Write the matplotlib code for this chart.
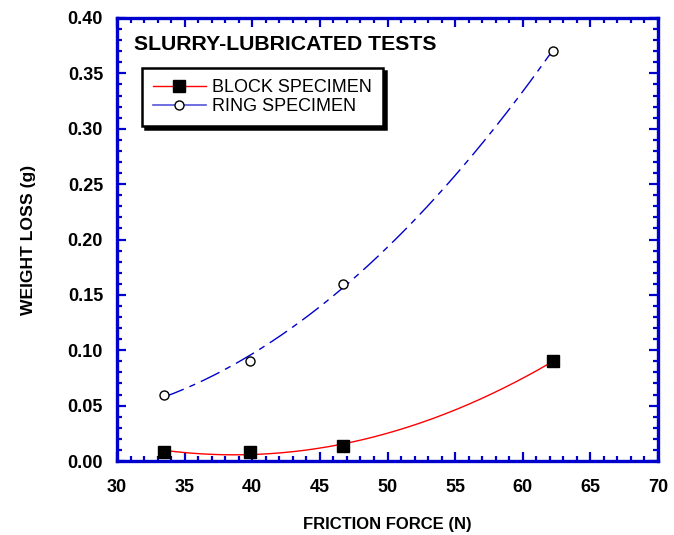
import numpy as np
import matplotlib
matplotlib.use("Agg")
import matplotlib.pyplot as plt
from matplotlib.ticker import MultipleLocator, FormatStrFormatter

plt.rcParams['font.family'] = ['Liberation Sans', 'DejaVu Sans']

force = [33.5, 39.8, 46.7, 62.2]
block_loss = [0.0085, 0.0085, 0.0135, 0.090]
ring_loss = [0.060, 0.090, 0.160, 0.370]

BLUE = '#0000CC'

fig = plt.figure(figsize=(6.74, 5.35), dpi=100)
ax = fig.add_axes([117/674, 1-461/535, (658-117)/674, (461-18)/535])

xs = np.linspace(min(force), max(force), 200)
pb = np.polyfit(force, block_loss, 2)
pr = np.polyfit(force, ring_loss, 2)

ax.plot(xs, np.polyval(pb, xs), color='red', lw=1.0, zorder=2)
ax.plot(xs, np.polyval(pr, xs), color=BLUE, lw=1.0, dashes=(15, 4.5, 4.5, 4.5), zorder=2)
ax.plot(force, block_loss, ls='none', marker='s', ms=8.5, mfc='black', mec='black', zorder=3)
ax.plot(force, ring_loss, ls='none', marker='o', ms=6.5, mfc='white', mec='black', mew=1.0, zorder=3)

ax.set_xlim(30, 70)
ax.set_ylim(0, 0.40)
ax.xaxis.set_major_locator(MultipleLocator(5))
ax.xaxis.set_minor_locator(MultipleLocator(1))
ax.yaxis.set_major_locator(MultipleLocator(0.05))
ax.yaxis.set_minor_locator(MultipleLocator(0.01))
ax.yaxis.set_major_formatter(FormatStrFormatter('%.2f'))

for s in ax.spines.values():
    s.set_color(BLUE)
    s.set_linewidth(2.4)
ax.tick_params(which='both', direction='in', top=True, right=True, color=BLUE, width=1.6)
ax.tick_params(which='major', length=6.5, labelsize=13)
ax.tick_params(axis='x', which='major', pad=13)
ax.tick_params(axis='y', which='major', pad=10)
ax.tick_params(which='minor', length=3.5)
for lab in ax.get_xticklabels() + ax.get_yticklabels():
    lab.set_fontweight('bold')

ax.set_xlabel('FRICTION FORCE (N)', fontsize=12, fontweight='bold', labelpad=15)
ax.set_ylabel('WEIGHT LOSS (g)', fontsize=12.6, fontweight='bold', labelpad=23)

fig.text(134/674, 1-44/535, 'SLURRY-LUBRICATED TESTS', fontsize=15.3, fontweight='bold',
         va='center', ha='left')

from matplotlib.lines import Line2D
h1 = Line2D([], [], color='red', lw=1.0, marker='s', ms=8, mfc='black', mec='black')
h2 = Line2D([], [], color='#5555DD', lw=1.2, marker='o', ms=6.5, mfc='white', mec='black')
leg = ax.legend([h1, h2], ['BLOCK SPECIMEN', 'RING SPECIMEN'], loc='upper left',
                bbox_to_anchor=(142/674, 1-68/535), bbox_transform=fig.transFigure,
                fontsize=13, frameon=True, fancybox=False, shadow={'color': 'black', 'alpha': 1},
                borderpad=0.62, labelspacing=0.1, handlelength=2.9, handletextpad=0.35,
                borderaxespad=0)
leg.get_frame().set_edgecolor('black')
leg.get_frame().set_linewidth(1.8)

fig.savefig('out.png', dpi=100)
